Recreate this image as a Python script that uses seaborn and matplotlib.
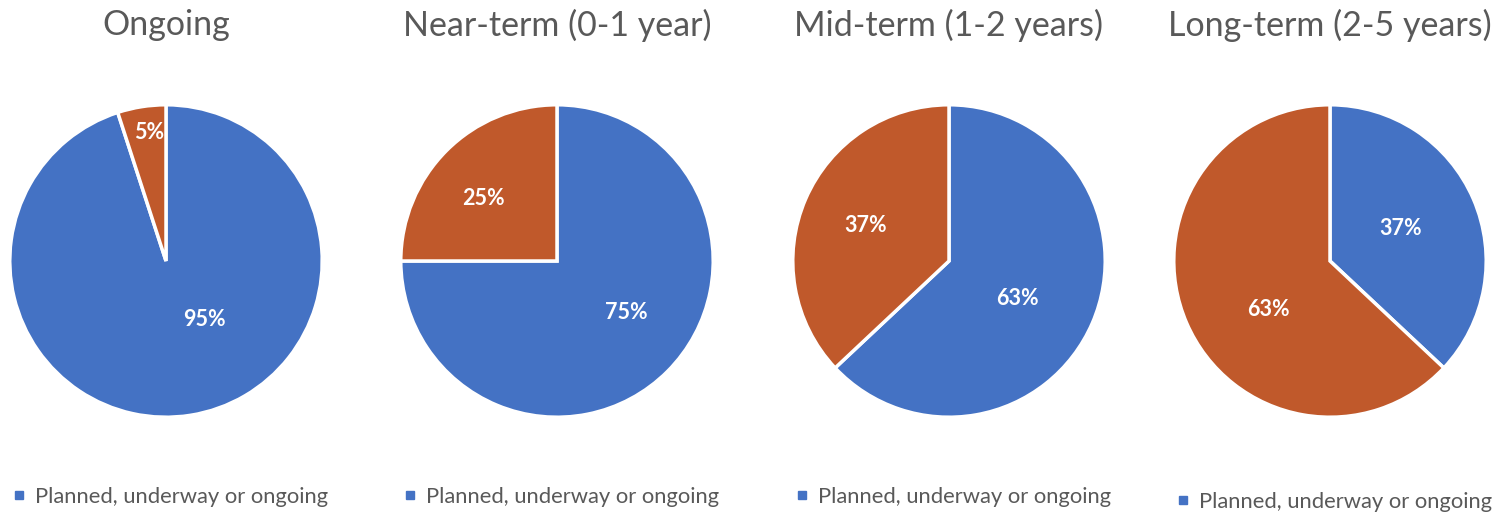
import matplotlib
matplotlib.use("Agg")
import matplotlib.pyplot as plt
import seaborn as sns
import numpy as np
from matplotlib.lines import Line2D

sns.set_theme(style="white")
plt.rcParams['font.family'] = ['Lato', 'DejaVu Sans']

# ---- data ----
titles = ["Ongoing", "Near-term (0-1 year)", "Mid-term (1-2 years)", "Long-term (2-5 years)"]
categories = ["Planned, underway or ongoing", "Not planned"]
planned = [95, 75, 63, 37]
not_planned = [5, 25, 37, 63]
legend_label = "Planned, underway or ongoing"

# ---- style ----
colors = ["#4472C4", "#C0592B"]
text_gray = "#595959"
centers_px = [166, 557, 949, 1330]
radius_px = 157
center_y_px = 261
label_dist = [[0.45, 0.83], [0.555, 0.62], [0.50, 0.58], [0.50, 0.50]]
label_angle_shift = [[24.5, -1.5], [8.4, 4.6], [-5.0, 0.0], [1.5, 15.0]]

W, H = 1499, 519
fig = plt.figure(figsize=(W / 100, H / 100), dpi=100)

for i, title in enumerate(titles):
    cx = centers_px[i]
    ax = fig.add_axes([(cx - radius_px) / W, (H - center_y_px - radius_px) / H,
                       2 * radius_px / W, 2 * radius_px / H])
    vals = [planned[i], not_planned[i]]
    wedges, _ = ax.pie(vals, colors=colors, startangle=90, counterclock=False,
                       wedgeprops=dict(edgecolor="white", linewidth=2.5),
                       radius=1.0)
    total = sum(vals)
    start = 90.0
    for j, v in enumerate(vals):
        span = 360.0 * v / total
        mid = np.deg2rad(start - span / 2 + label_angle_shift[i][j])
        d = label_dist[i][j]
        ax.text(d * np.cos(mid), d * np.sin(mid), f"{v}%", ha="center", va="center",
                color="white", fontsize=15.5, fontweight="bold")
        start -= span
    ax.set_xlim(-1.005, 1.005)
    ax.set_ylim(-1.005, 1.005)
    ax.set_aspect("equal")
    ax.axis("off")
    fig.text(cx / W, 1 - 25 / H, title, ha="center", va="center",
             fontsize=24.5, color=text_gray)
    handle = Line2D([], [], marker="s", color=colors[0], linestyle="none", markersize=6)
    leg_y = 497 if i < 3 else 502
    fig.legend(handles=[handle], labels=[legend_label],
               loc="center left", bbox_to_anchor=((cx - radius_px + 5) / W, 1 - leg_y / H),
               frameon=False, fontsize=15.8, labelcolor=text_gray,
               handlelength=0.5, handletextpad=0.45, borderpad=0, borderaxespad=0)

fig.savefig("out.png", dpi=100, facecolor="white")
